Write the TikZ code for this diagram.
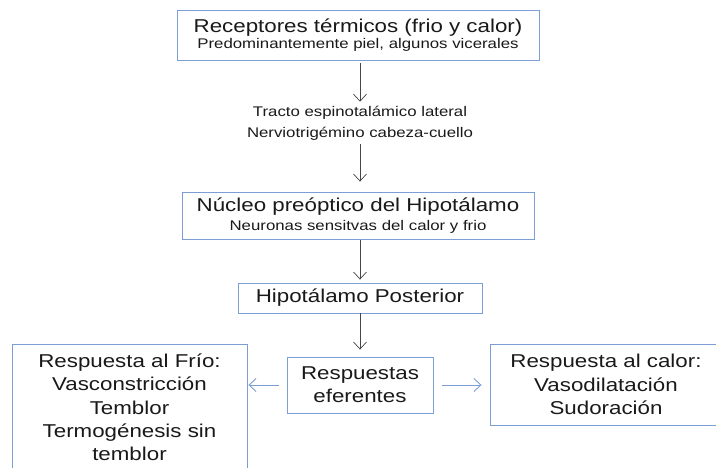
\documentclass[tikz,border=0pt]{standalone}
\usepackage{fontspec}
\setmainfont[FakeStretch=1.2]{Liberation Sans}
\usetikzlibrary{arrows.meta}
\definecolor{boxblue}{RGB}{125,158,212}
\definecolor{arrgray}{RGB}{70,70,70}
\definecolor{txtgray}{RGB}{25,25,25}
\newcommand{\bigtxt}{\fontsize{18.6}{23.3}\selectfont}
\newcommand{\smalltxt}{\fontsize{14}{21}\selectfont}
\begin{document}
\begin{tikzpicture}[x=1pt,y=-1pt,
    box/.style={draw=boxblue,line width=0.9pt,inner sep=0pt,align=center,text=txtgray,font=\bigtxt},
    plain/.style={inner sep=0pt,align=center,text=txtgray,font=\smalltxt},
    down/.style={draw=arrgray,line width=0.7pt,-{Straight Barb[length=7pt,width=13pt]}},
    side/.style={draw=boxblue,line width=0.9pt,-{Straight Barb[length=7pt,width=13pt]}}]
  \useasboundingbox (0,0) rectangle (716,468);
  % top of the chain
  \node[box,minimum width=362pt,minimum height=50pt] (recep) at (358,35)
    {Receptores térmicos (frio y calor)\\[-7pt]{\smalltxt Predominantemente piel, algunos vicerales}};
  \node[plain] (tracto) at (360,123)
    {Tracto espinotalámico lateral\\Nerviotrigémino cabeza-cuello};
  \node[box,minimum width=352pt,minimum height=47pt] (nucleo) at (358,215.5)
    {Núcleo preóptico del Hipotálamo\\[-5pt]{\smalltxt Neuronas sensitvas del calor y frio}};
  \node[box,minimum width=244pt,minimum height=30pt] (post) at (360,298)
    {Hipotálamo Posterior};
  \node[box,minimum width=146pt,minimum height=56pt] (efer) at (360,385)
    {Respuestas\\eferentes};
  % the two answers
  \node[box,minimum width=235pt,minimum height=127pt] (frio) at (129.5,407.5)
    {Respuesta al Frío:\\Vasconstricción\\Temblor\\Termogénesis sin\\temblor};
  \node[box,minimum width=232pt,minimum height=81pt] (calor) at (606,384.5)
    {Respuesta al calor:\\Vasodilatación\\Sudoración};
  \draw[down,shorten <=3pt,shorten >=4pt] (recep.south -| tracto.north) -- (tracto.north);
  \draw[down,shorten <=4pt,shorten >=10pt] (tracto.south) -- (tracto.south |- nucleo.north);
  \draw[down,shorten <=1pt,shorten >=3pt] (nucleo.south -| post.north) -- (post.north);
  \draw[down,shorten >=7pt] (post.south) -- (efer.north);
  \draw[side,shorten <=8pt,shorten >=1pt] (efer.west) -- (frio.east |- efer.west);
  \draw[side,shorten <=9pt,shorten >=8pt] (efer.east) -- (calor.west |- efer.east);
\end{tikzpicture}
\end{document}
